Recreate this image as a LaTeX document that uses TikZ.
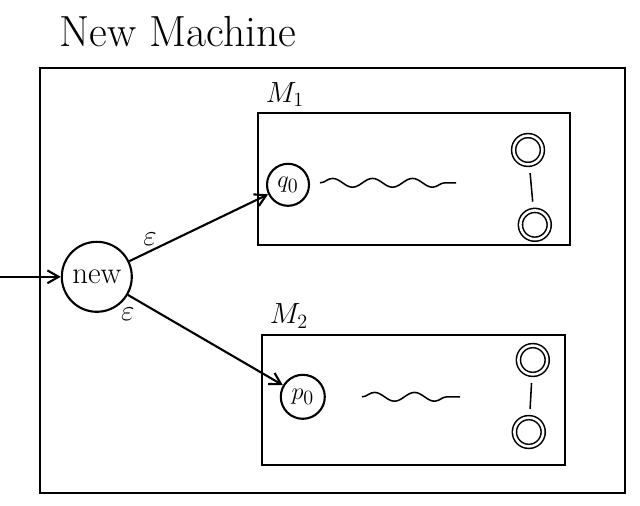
\documentclass[tikz,border=0pt]{standalone}
\usetikzlibrary{positioning, arrows.meta, decorations.pathmorphing}

\begin{document}
\begin{tikzpicture}[
    line width=1.5pt,
    % 1. states of the machines
    state/.style={circle, draw, inner sep=1pt, font=\fontsize{19}{21}\selectfont},
    accept/.style={circle, draw, double, double distance=1.8pt, minimum size=0.72cm, inner sep=0pt, line width=1.1pt},
    % 2. boxes around each machine
    machine/.style={rectangle, draw, inner sep=0pt},
    tag/.style={font=\fontsize{22}{24}\selectfont},
    % 3. transitions and the wavy "rest of the machine"
    trans/.style={-{Straight Barb[length=2.8mm, width=3.2mm]}},
    eps/.style={font=\fontsize{20}{22}\selectfont},
    wiggle/.style={decorate, decoration={snake, amplitude=1.1mm, segment length=10mm}, line width=1.1pt},
    link/.style={line width=1.1pt, shorten <=2mm, shorten >=2mm}
  ]
  \useasboundingbox (0,0) rectangle (16,-12.65);

  % === Outer machine ===
  \node[font=\fontsize{31}{34}\selectfont] (title) at (4.45,-0.8) {New Machine};
  \node[machine, minimum width=14.62cm, minimum height=10.62cm] (outer) at (8.31,-7.01) {};

  % === Start state ===
  \node[state, minimum size=1.75cm, font=\fontsize{22}{24}\selectfont] (new) at (2.42,-6.92) {new};
  \coordinate (start) at (0,-6.92);
  \draw[trans] (start) -- (new);

  % === Machine M1 ===
  \node[machine, minimum width=7.8cm, minimum height=3.29cm] (m1) at (10.35,-4.475) {};
  \node[tag, above=0pt of m1.north west, xshift=0.7cm] (m1tag) {$M_1$};
  \node[state, minimum size=1.05cm] (q0) at (7.2,-4.62) {$q_0$};
  \coordinate (w1a) at (8.0,-4.57);
  \coordinate (w1b) at (11.4,-4.57);
  \draw[wiggle] (w1a) -- (w1b);
  \node[accept] (f1) at (13.2,-3.75) {};
  \node[accept] (f2) at (13.37,-5.62) {};
  \draw[link] (f1) -- (f2);

  % === Machine M2 ===
  \node[machine, minimum width=7.57cm, minimum height=3.25cm] (m2) at (10.335,-9.995) {};
  \node[tag, above=0pt of m2.north west, xshift=0.7cm] (m2tag) {$M_2$};
  \node[state, minimum size=1.1cm] (p0) at (7.57,-9.92) {$p_0$};
  \coordinate (w2a) at (9.05,-9.92);
  \coordinate (w2b) at (11.5,-9.92);
  \draw[wiggle] (w2a) -- (w2b);
  \node[accept] (g1) at (13.32,-9.0) {};
  \node[accept] (g2) at (13.22,-10.8) {};
  \draw[link] (g1) -- (g2);

  % === Epsilon moves ===
  \draw[trans] (new) -- node[pos=0.15, above, eps] {$\varepsilon$} (q0);
  \draw[trans] (new) -- node[pos=0.08, below left, eps] {$\varepsilon$} (p0);
\end{tikzpicture}
\end{document}
